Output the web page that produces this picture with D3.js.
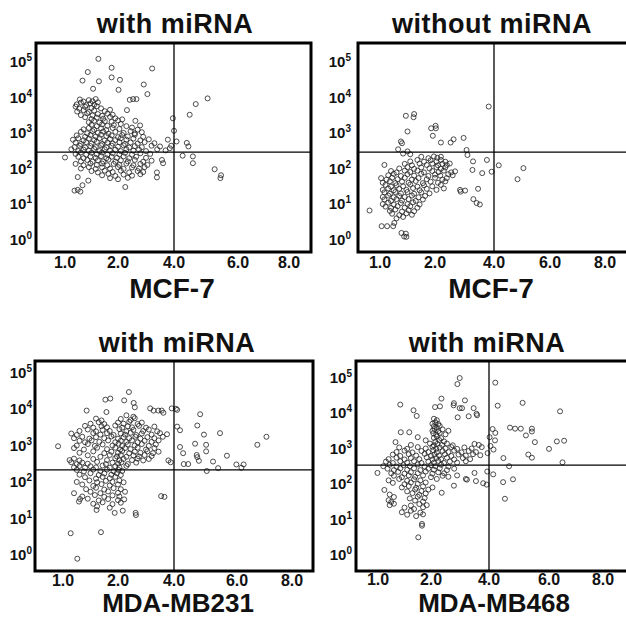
<!DOCTYPE html>
<html>
<head>
<meta charset="utf-8">
<script src="https://cdn.jsdelivr.net/npm/d3@7"></script>
<style>
  body { margin: 0; background: #fff; }
  svg { display: block; font-family: "Liberation Sans", Arial, sans-serif; font-weight: bold; }
</style>
</head>
<body>
<div id="chart"></div>
<script>
// axis ticks
const xTicks = [1, 2, 4, 6, 8];
const yTicks = [0, 1, 2, 3, 4, 5]; // decades, shown as 10^n
const titles = ['with miRNA', 'without miRNA', 'with miRNA', 'with miRNA'];
const cellLines = ['MCF-7', 'MCF-7', 'MDA-MB231', 'MDA-MB468'];
// quadrant gates: x value and y value (log10)
const gateX = 4.0;
const gateY = [2.44, 2.44, 2.31, 2.51];

// events: [x, log10(y)]
const mcf7With = [
  [1.63,5.06],[1.88,4.81],[3.22,4.79],[1.43,4.69],[1.88,4.54],[1.33,4.45],[1.64,4.43],[2.07,4.47],[2.92,4.34],[1.53,4.22],
  [2.02,4.19],[3.05,4.07],[2.42,3.91],[2.54,3.93],[2.66,3.93],[2.32,3.62],[5.05,3.95],[4.68,3.79],[4.49,3.49],[3.96,3.39],
  [4.0,3.04],[2.62,3.32],[2.79,3.19],[4.08,2.74],[3.78,2.79],[4.4,2.7],[4.45,2.6],[4.27,2.34],[4.59,2.32],[4.59,2.13],
  [5.27,1.96],[5.47,1.79],[5.45,1.71],[3.57,2.22],[3.61,2.13],[3.39,1.87],[3.39,1.73],[2.26,1.46],[1.24,1.38],[1.18,1.36],
  [1.29,1.33],[1.33,1.51],[1.44,1.64],[1.24,1.74],[1.0,2.29],[3.85,2.55],[3.9,2.62],
  [1.28,3.92],[1.35,3.86],[1.45,3.9],[1.52,3.87],[1.58,3.93],
  [1.22,3.78],[1.3,3.83],[1.4,3.76],[1.48,3.81],[1.55,3.77],[1.62,3.84],
  [1.2,3.72],[1.27,3.66],[1.38,3.71],[1.5,3.68],[1.6,3.73],[1.68,3.67],
  [1.23,3.58],[1.35,3.62],[1.45,3.57],[1.55,3.61],[1.75,3.59],[1.85,3.63],
  [1.3,3.48],[1.42,3.53],[1.52,3.47],[1.62,3.51],[1.7,3.46],[1.8,3.52],[1.9,3.49],
  [1.38,3.42],[1.5,3.37],[1.6,3.41],[1.72,3.38],[1.85,3.43],[1.95,3.39],[2.15,3.36],
  [1.45,3.28],[1.55,3.32],[1.65,3.27],[1.75,3.31],[1.88,3.29],[2.0,3.33],
  [1.5,3.21],[1.6,3.17],[1.7,3.22],[1.8,3.18],[1.92,3.2],[2.1,3.23],[2.3,3.17],
  [1.35,3.08],[1.45,3.12],[1.55,3.07],[1.68,3.11],[1.78,3.06],[1.9,3.12],[2.05,3.09],[2.5,3.13],[2.7,3.07],
  [1.3,3.01],[1.42,2.97],[1.52,3.03],[1.62,2.98],[1.72,3.02],[1.82,2.96],[1.95,3.01],[2.2,2.98],[2.45,3.03],[2.6,2.97],[2.85,3.0],
  [1.22,2.91],[1.38,2.87],[1.48,2.92],[1.58,2.88],[1.68,2.93],[1.78,2.89],[1.88,2.91],[2.0,2.86],[2.15,2.92],[2.35,2.88],[2.6,2.93],[2.9,2.87],
  [1.15,2.79],[1.25,2.83],[1.35,2.77],[1.45,2.82],[1.55,2.78],[1.65,2.83],[1.75,2.77],[1.85,2.81],[1.95,2.78],[2.1,2.83],[2.3,2.79],[2.55,2.82],[2.8,2.77],[3.1,2.8],
  [1.2,2.71],[1.3,2.67],[1.4,2.72],[1.5,2.68],[1.6,2.73],[1.7,2.67],[1.8,2.71],[1.9,2.68],[2.05,2.72],[2.25,2.67],[2.45,2.71],[2.7,2.68],[2.95,2.72],[3.3,2.69],
  [1.18,2.58],[1.28,2.62],[1.38,2.57],[1.48,2.61],[1.58,2.58],[1.68,2.63],[1.78,2.57],[1.88,2.62],[2.0,2.59],[2.2,2.63],[2.4,2.57],[2.6,2.61],[2.85,2.58],[3.2,2.62],[3.5,2.6],
  [1.12,2.52],[1.25,2.47],[1.35,2.51],[1.45,2.48],[1.55,2.53],[1.65,2.47],[1.75,2.52],[1.85,2.48],[1.95,2.51],[2.1,2.47],[2.3,2.52],[2.55,2.48],[2.75,2.51],[3.0,2.47],[3.4,2.52],[3.7,2.49],
  [1.2,2.39],[1.3,2.43],[1.4,2.37],[1.5,2.42],[1.6,2.38],[1.7,2.43],[1.8,2.37],[1.9,2.41],[2.05,2.38],[2.25,2.42],[2.5,2.37],[2.8,2.41],[3.15,2.39],
  [1.25,2.31],[1.35,2.27],[1.48,2.32],[1.58,2.28],[1.68,2.33],[1.78,2.27],[1.88,2.31],[1.98,2.28],[2.2,2.32],[2.4,2.27],[2.65,2.31],[3.0,2.28],
  [1.3,2.18],[1.42,2.22],[1.52,2.17],[1.62,2.21],[1.72,2.18],[1.82,2.23],[1.95,2.17],[2.1,2.21],[2.35,2.18],[2.6,2.22],[2.9,2.17],[3.2,2.2],
  [1.2,2.11],[1.35,2.07],[1.48,2.12],[1.6,2.08],[1.7,2.12],[1.8,2.07],[1.92,2.11],[2.05,2.08],[2.3,2.12],[2.55,2.07],[2.8,2.11],[3.05,2.08],
  [1.3,1.98],[1.45,2.02],[1.58,1.97],[1.7,2.01],[1.85,1.98],[2.0,2.02],[2.2,1.97],[2.5,2.01],[2.75,1.98],[2.95,2.02],
  [1.5,1.91],[1.62,1.87],[1.75,1.92],[1.9,1.88],[2.1,1.92],[2.4,1.87],[2.7,1.91],[2.9,1.88],
  [1.7,1.79],[1.82,1.83],[1.95,1.77],[2.2,1.81],[2.5,1.78],[2.8,1.82],
  [1.85,1.71],[2.0,1.68],[2.35,1.72]
];

const mcf7Without = [
  [3.82,3.72],[1.47,3.46],[1.61,3.42],[1.62,3.51],[1.5,3.02],[1.93,3.11],[2.02,3.18],[2.03,3.11],[1.96,2.9],[2.2,2.71],
  [2.53,2.71],[2.63,2.8],[2.97,2.84],[1.38,2.74],[1.4,2.69],[3.07,2.5],[3.1,2.36],[3.76,2.22],[4.17,2.07],[5.05,1.99],
  [4.84,1.68],[3.29,2.18],[3.6,1.85],[3.92,1.89],[3.27,1.94],[3.46,1.41],[3.3,1.12],[3.41,1.01],[3.52,0.97],[3.02,1.36],
  [2.87,1.33],[2.85,1.38],[0.81,0.8],[1.03,0.36],[1.13,0.36],[1.24,0.36],[1.26,0.45],[1.39,0.17],[1.44,0.07],[1.48,0.06],
  [1.47,0.15],[1.08,2.08],[1.33,2.52],[1.42,2.4],[1.5,2.46],[1.55,2.38],
  [1.75,2.31],[1.88,2.27],[1.98,2.32],[2.08,2.28],[2.2,2.31],
  [1.55,2.18],[1.68,2.22],[1.8,2.17],[1.92,2.21],[2.05,2.18],[2.2,2.22],[2.35,2.17],
  [1.45,2.11],[1.58,2.07],[1.72,2.12],[1.85,2.08],[1.95,2.12],[2.1,2.07],[2.25,2.11],[2.4,2.08],[2.5,2.12],
  [1.35,1.98],[1.5,2.02],[1.62,1.97],[1.75,2.01],[1.9,1.98],[2.05,2.02],[2.2,1.97],[2.35,2.01],
  [1.2,1.91],[1.3,1.87],[1.45,1.92],[1.55,1.88],[1.68,1.92],[1.8,1.87],[1.95,1.91],[2.12,1.88],[2.3,1.92],[2.55,1.87],[2.68,1.9],
  [1.15,1.79],[1.25,1.83],[1.38,1.77],[1.5,1.82],[1.62,1.78],[1.75,1.83],[1.88,1.77],[2.0,1.81],[2.18,1.78],[2.45,1.82],[2.6,1.79],
  [1.02,1.71],[1.12,1.67],[1.22,1.72],[1.32,1.68],[1.45,1.72],[1.58,1.67],[1.7,1.71],[1.85,1.68],[2.0,1.72],[2.25,1.67],[2.4,1.71],
  [1.05,1.58],[1.18,1.62],[1.28,1.57],[1.4,1.61],[1.52,1.58],[1.65,1.63],[1.78,1.57],[1.92,1.61],[2.1,1.58],[2.35,1.62],
  [1.1,1.52],[1.2,1.47],[1.3,1.51],[1.42,1.48],[1.55,1.53],[1.68,1.47],[1.8,1.51],[1.95,1.48],[2.2,1.52],
  [1.05,1.38],[1.15,1.42],[1.25,1.37],[1.35,1.41],[1.48,1.38],[1.6,1.43],[1.72,1.37],[1.85,1.41],[2.05,1.38],[2.3,1.42],
  [1.08,1.31],[1.18,1.27],[1.28,1.32],[1.38,1.28],[1.5,1.32],[1.62,1.27],[1.75,1.31],[1.9,1.28],
  [1.05,1.18],[1.15,1.22],[1.25,1.17],[1.35,1.21],[1.45,1.18],[1.58,1.22],[1.7,1.17],[1.82,1.21],
  [1.08,1.11],[1.2,1.07],[1.3,1.12],[1.4,1.08],[1.52,1.12],[1.65,1.07],[1.78,1.11],
  [1.05,0.98],[1.15,1.02],[1.25,0.97],[1.38,1.01],[1.5,0.98],[1.6,1.03],[1.72,0.97],
  [1.1,0.91],[1.2,0.87],[1.32,0.92],[1.45,0.88],[1.55,0.92],[1.68,0.88],
  [1.18,0.79],[1.28,0.83],[1.4,0.77],[1.52,0.81],[1.62,0.78],
  [1.22,0.71],[1.35,0.67],[1.48,0.72],[1.58,0.68],
  [1.3,0.58],[1.42,0.62]
];

const mb231With = [
  [2.39,4.45],[1.77,4.24],[1.86,4.27],[2.22,4.22],[2.56,4.15],[2.6,4.03],[1.43,3.94],[1.79,3.9],[3.92,4.0],[4.06,3.99],
  [4.1,3.96],[3.15,4.0],[3.27,3.94],[3.44,3.94],[3.56,3.94],[3.62,3.88],[4.83,3.84],[4.74,3.53],[4.1,3.5],[4.19,3.4],
  [4.95,3.28],[5.46,3.32],[7.07,3.22],[6.74,3.0],[4.19,2.94],[4.67,3.03],[5.02,3.0],[5.02,2.82],[4.29,2.77],[4.72,2.72],
  [4.74,2.66],[4.79,2.56],[5.24,2.54],[5.68,2.7],[4.31,2.47],[4.45,2.47],[5.98,2.46],[6.24,2.46],[6.16,2.37],[5.4,2.36],
  [5.04,2.28],[3.88,2.52],[3.8,2.57],[3.54,1.59],[3.66,1.57],[2.63,1.13],[2.64,1.07],[2.22,1.5],[1.94,1.13],[2.17,1.19],
  [1.61,1.21],[1.69,0.6],[1.14,0.57],[1.26,-0.13],[0.91,2.96],[1.2,1.67],[1.31,1.51],[1.29,1.44],
  [2.3,3.81],[2.55,3.77],
  [1.6,3.72],[1.7,3.67],[2.1,3.71],[2.45,3.68],[2.6,3.73],
  [1.5,3.58],[1.65,3.62],[1.75,3.57],[2.0,3.61],[2.2,3.58],[2.4,3.63],[2.7,3.57],[2.85,3.61],
  [1.4,3.52],[1.55,3.47],[1.7,3.51],[1.8,3.48],[1.95,3.53],[2.15,3.47],[2.35,3.51],[2.5,3.48],[2.75,3.52],[3.0,3.47],[3.3,3.5],
  [1.3,3.38],[1.45,3.42],[1.6,3.37],[1.72,3.41],[1.85,3.38],[2.05,3.43],[2.3,3.37],[2.55,3.41],[2.9,3.38],[3.1,3.42],[3.4,3.37],
  [1.15,3.31],[1.25,3.27],[1.55,3.32],[1.68,3.28],[1.8,3.32],[1.92,3.27],[2.1,3.31],[2.25,3.28],[2.45,3.33],[2.65,3.27],[2.85,3.31],[3.2,3.28],[3.5,3.32],[3.75,3.29],
  [1.2,3.18],[1.35,3.22],[1.48,3.17],[1.6,3.21],[1.75,3.18],[1.88,3.23],[2.0,3.17],[2.2,3.21],[2.4,3.18],[2.62,3.22],[2.8,3.17],[3.05,3.21],[3.3,3.18],[3.6,3.22],
  [1.3,3.11],[1.4,3.07],[1.52,3.12],[1.66,3.08],[1.82,3.12],[1.95,3.07],[2.1,3.11],[2.3,3.08],[2.5,3.12],[2.7,3.07],[2.95,3.11],[3.2,3.08],[3.45,3.12],
  [1.25,2.98],[1.45,3.02],[1.58,2.97],[1.72,3.01],[1.9,2.98],[2.02,3.03],[2.15,2.97],[2.35,3.01],[2.6,2.98],[2.85,3.02],[3.1,2.97],[3.35,3.01],
  [1.2,2.91],[1.38,2.87],[1.62,2.92],[1.8,2.88],[1.95,2.92],[2.08,2.87],[2.25,2.91],[2.45,2.88],[2.7,2.92],[3.0,2.87],[3.3,2.91],
  [1.3,2.78],[1.55,2.82],[1.75,2.77],[1.88,2.81],[2.0,2.78],[2.15,2.83],[2.4,2.77],[2.6,2.81],[2.8,2.78],[3.05,2.82],[3.25,2.77],[3.45,2.81],
  [1.45,2.71],[1.68,2.67],[1.85,2.72],[1.98,2.68],[2.1,2.72],[2.3,2.67],[2.55,2.71],[2.75,2.68],[2.95,2.72],[3.2,2.69],
  [1.12,2.58],[1.2,2.62],[1.3,2.57],[1.55,2.61],[1.8,2.58],[1.95,2.63],[2.05,2.57],[2.2,2.61],[2.5,2.58],[2.7,2.62],[2.9,2.57],[3.1,2.61],
  [1.15,2.52],[1.25,2.47],[1.35,2.51],[1.45,2.48],[1.62,2.53],[1.78,2.47],[1.9,2.51],[2.0,2.48],[2.12,2.52],[2.35,2.47],[2.65,2.51],
  [1.2,2.38],[1.3,2.42],[1.4,2.37],[1.5,2.41],[1.6,2.38],[1.72,2.43],[1.85,2.37],[1.95,2.41],[2.05,2.38],[2.3,2.42],
  [1.25,2.31],[1.38,2.27],[1.55,2.32],[1.68,2.28],[1.8,2.32],[1.92,2.27],[2.02,2.31],[2.15,2.28],
  [1.3,2.18],[1.5,2.22],[1.65,2.17],[1.75,2.21],[1.88,2.18],[1.98,2.22],[2.1,2.17],
  [1.4,2.11],[1.6,2.07],[1.72,2.12],[1.85,2.08],[1.95,2.12],
  [1.25,1.98],[1.48,2.02],[1.62,1.97],[1.78,2.01],[1.9,1.98],[2.05,2.02],[2.2,1.97],
  [1.35,1.91],[1.55,1.87],[1.7,1.92],[1.85,1.88],[2.0,1.91],
  [1.42,1.78],[1.6,1.82],[1.75,1.77],[1.92,1.81],[2.1,1.78],
  [1.5,1.71],[1.68,1.67],[1.82,1.72],[2.0,1.68],[2.25,1.71],
  [1.35,1.58],[1.58,1.62],[1.75,1.57],[1.9,1.61],[2.05,1.58],
  [1.45,1.52],[1.65,1.47],[1.82,1.51],[2.0,1.48],
  [1.55,1.38],[1.72,1.42],[1.9,1.37],[2.1,1.41],
  [1.62,1.31],[1.85,1.27]
];

const mb468With = [
  [2.99,4.97],[2.91,4.8],[4.21,4.84],[2.36,4.39],[3.17,4.34],[2.79,4.26],[2.78,4.2],[2.99,4.12],[3.07,4.12],[4.29,4.19],
  [5.12,4.27],[3.47,4.12],[2.14,4.15],[2.31,4.17],[1.67,4.06],[1.73,3.9],[2.92,3.86],[3.3,3.89],[3.57,3.96],[3.59,3.92],
  [6.41,4.03],[4.12,3.53],[4.21,3.42],[4.2,3.21],[4.7,3.57],[4.87,3.54],[5.06,3.54],[5.43,3.54],[5.43,3.46],[5.23,3.35],
  [5.53,3.16],[6.29,3.18],[6.56,3.2],[6.0,2.97],[5.31,2.81],[5.43,2.72],[6.5,2.59],[4.48,2.71],[4.67,2.48],[4.14,2.25],
  [4.8,2.11],[4.47,2.03],[4.53,1.56],[3.94,2.33],[3.5,2.29],[3.55,2.06],[3.8,2.0],[3.92,1.96],[3.2,2.12],[3.24,2.1],
  [2.79,1.93],[2.37,1.73],[1.42,4.22],[1.59,3.44],[1.43,3.44],[1.75,3.3],[1.33,3.16],[0.99,2.29],[1.76,0.47],[1.83,0.85],
  [1.83,0.8],[4.05,3.05],[4.15,2.95],[3.95,2.85],[4.02,3.3],
  [2.1,3.82],[2.2,3.78],
  [2.05,3.68],[2.15,3.72],[2.25,3.67],
  [2.1,3.61],[2.2,3.57],[2.3,3.62],
  [2.05,3.48],[2.12,3.53],[2.25,3.47],[2.4,3.52],[2.6,3.48],
  [2.08,3.41],[2.18,3.37],[2.3,3.42],[2.5,3.38],
  [2.1,3.28],[2.2,3.32],[2.35,3.27],
  [1.9,3.21],[2.15,3.17],[2.28,3.22],[2.45,3.18],
  [1.62,3.08],[1.98,3.12],[2.1,3.07],[2.22,3.11],[2.38,3.08],[2.55,3.12],[2.75,3.07],[3.5,3.11],[3.65,3.08],
  [1.4,3.01],[1.55,2.97],[1.75,3.02],[1.9,2.98],[2.05,3.03],[2.18,2.97],[2.3,3.01],[2.5,2.98],[2.7,3.02],[2.9,2.97],[3.15,3.01],[3.4,2.98],[3.75,3.02],
  [1.35,2.88],[1.5,2.92],[1.65,2.87],[1.82,2.91],[1.95,2.88],[2.08,2.93],[2.2,2.87],[2.4,2.91],[2.6,2.88],[2.8,2.92],[3.05,2.87],[3.3,2.91],[3.55,2.88],
  [1.28,2.81],[1.42,2.77],[1.58,2.82],[1.72,2.78],[1.88,2.83],[2.0,2.77],[2.12,2.81],[2.28,2.78],[2.48,2.82],[2.7,2.77],[2.95,2.81],[3.2,2.78],[3.45,2.82],[3.7,2.79],
  [1.2,2.68],[1.35,2.72],[1.5,2.67],[1.62,2.71],[1.78,2.68],[1.92,2.73],[2.05,2.67],[2.18,2.71],[2.35,2.68],[2.55,2.72],[2.8,2.67],[3.1,2.71],[3.35,2.68],
  [1.15,2.61],[1.28,2.57],[1.42,2.62],[1.55,2.58],[1.68,2.62],[1.82,2.57],[1.95,2.61],[2.1,2.58],[2.25,2.63],[2.45,2.57],[2.65,2.61],[2.9,2.58],[3.2,2.62],
  [1.1,2.48],[1.22,2.52],[1.35,2.47],[1.48,2.51],[1.6,2.48],[1.75,2.53],[1.88,2.47],[2.0,2.51],[2.15,2.48],[2.35,2.52],[2.6,2.47],
  [1.18,2.41],[1.3,2.37],[1.42,2.42],[1.55,2.38],[1.68,2.42],[1.8,2.37],[1.95,2.41],[2.1,2.38],[2.3,2.42],[2.55,2.37],[2.8,2.41],
  [1.25,2.28],[1.38,2.32],[1.5,2.27],[1.62,2.31],[1.75,2.28],[1.9,2.33],[2.05,2.27],[2.25,2.31],[2.45,2.28],
  [1.3,2.21],[1.45,2.17],[1.58,2.22],[1.7,2.18],[1.85,2.22],[2.0,2.17],[2.4,2.21],[2.6,2.18],[2.9,2.22],
  [1.2,2.08],[1.4,2.12],[1.55,2.07],[1.68,2.11],[1.8,2.08],[2.2,2.12],
  [1.28,2.01],[1.5,1.97],[1.62,2.02],[1.75,1.98],[1.9,2.02],
  [1.45,1.88],[1.58,1.92],[1.72,1.87],[1.85,1.91],[2.05,1.88],
  [1.12,1.81],[1.55,1.77],[1.7,1.82],[1.82,1.78],[1.95,1.82],
  [1.22,1.68],[1.65,1.72],[1.78,1.67],[1.9,1.71],
  [1.3,1.61],[1.6,1.57],[1.75,1.62],[1.88,1.58],
  [1.2,1.52],[1.25,1.47],[1.7,1.51],[1.85,1.48],
  [1.22,1.38],[1.3,1.42],[1.62,1.37],[1.78,1.41],[1.92,1.38],
  [1.5,1.31],[1.68,1.27],[1.85,1.32],
  [1.45,1.18],[1.62,1.22],[1.8,1.17],
  [1.55,1.11],[1.72,1.07],[1.85,1.12]
];

const series = [mcf7With, mcf7Without, mb231With, mb468With];

// page layout of the four panels (pixels)
const layout = [
  { left: 36,  right: 311, top: 43,  bottom: 252, xr: [65, 118, 174, 238, 289],  yr: [239, 61],  labX: 32,  tickY: 268, titleX: 175, titleY: 33,  nameX: 172, nameY: 298 },
  { left: 358, right: 640, top: 43,  bottom: 252, xr: [380, 435, 494, 550, 605], yr: [239, 61],  labX: 351, tickY: 268, titleX: 492, titleY: 33,  nameX: 491, nameY: 298 },
  { left: 35,  right: 313, top: 361, bottom: 571, xr: [63, 118, 174, 237, 292],  yr: [554, 372], labX: 32,  tickY: 586, titleX: 177, titleY: 352, nameX: 178, nameY: 612 },
  { left: 356, right: 640, top: 361, bottom: 571, xr: [378, 431, 489, 549, 603], yr: [554, 377], labX: 352, tickY: 585, titleX: 487, titleY: 352, nameX: 494, nameY: 612 }
];

const svg = d3.select('#chart')
  .append('svg')
  .attr('width', 626)
  .attr('height', 618);

layout.forEach((L, i) => {
  const g = svg.append('g').attr('class', 'panel');

  const x = d3.scaleLinear().domain(xTicks).range(L.xr);
  const y = d3.scaleLog().domain([1, 1e5]).range(L.yr);

  // events
  g.append('g')
    .selectAll('circle')
    .data(series[i])
    .join('circle')
    .attr('cx', (d) => x(d[0]))
    .attr('cy', (d) => y(Math.pow(10, d[1])))
    .attr('r', 2.5)
    .attr('fill', 'none')
    .attr('stroke', '#222')
    .attr('stroke-opacity', 0.8)
    .attr('stroke-width', 1);

  // quadrant gates
  g.append('line')
    .attr('x1', x(gateX)).attr('x2', x(gateX))
    .attr('y1', L.top).attr('y2', L.bottom)
    .attr('stroke', '#000').attr('stroke-width', 1.3);
  g.append('line')
    .attr('x1', L.left).attr('x2', L.right)
    .attr('y1', y(Math.pow(10, gateY[i]))).attr('y2', y(Math.pow(10, gateY[i])))
    .attr('stroke', '#000').attr('stroke-width', 1.3);

  // frame
  g.append('rect')
    .attr('x', L.left).attr('y', L.top)
    .attr('width', L.right - L.left).attr('height', L.bottom - L.top)
    .attr('fill', 'none').attr('stroke', '#000').attr('stroke-width', 3);

  // x tick labels
  g.append('g')
    .selectAll('text')
    .data(xTicks)
    .join('text')
    .attr('x', (d) => x(d))
    .attr('y', L.tickY)
    .attr('text-anchor', 'middle')
    .attr('font-size', 16)
    .attr('fill', '#111')
    .text((d) => d.toFixed(1));

  // y tick labels 10^n
  const yl = g.append('g')
    .selectAll('text')
    .data(yTicks)
    .join('text')
    .attr('x', L.labX)
    .attr('y', (d) => y(Math.pow(10, d)))
    .attr('dy', '0.4em')
    .attr('text-anchor', 'end')
    .attr('font-size', 15)
    .attr('fill', '#111');
  yl.append('tspan').text('10');
  yl.append('tspan')
    .attr('font-size', 10)
    .attr('dy', '-0.6em')
    .text((d) => d);

  // title and cell line
  g.append('text')
    .attr('x', L.titleX).attr('y', L.titleY)
    .attr('text-anchor', 'middle')
    .attr('font-size', 27)
    .attr('letter-spacing', 0.5)
    .attr('fill', '#111')
    .text(titles[i]);
  g.append('text')
    .attr('x', L.nameX).attr('y', L.nameY)
    .attr('text-anchor', 'middle')
    .attr('font-size', i < 2 ? 28 : 26)
    .attr('fill', '#111')
    .text(cellLines[i]);
});
</script>
</body>
</html>
